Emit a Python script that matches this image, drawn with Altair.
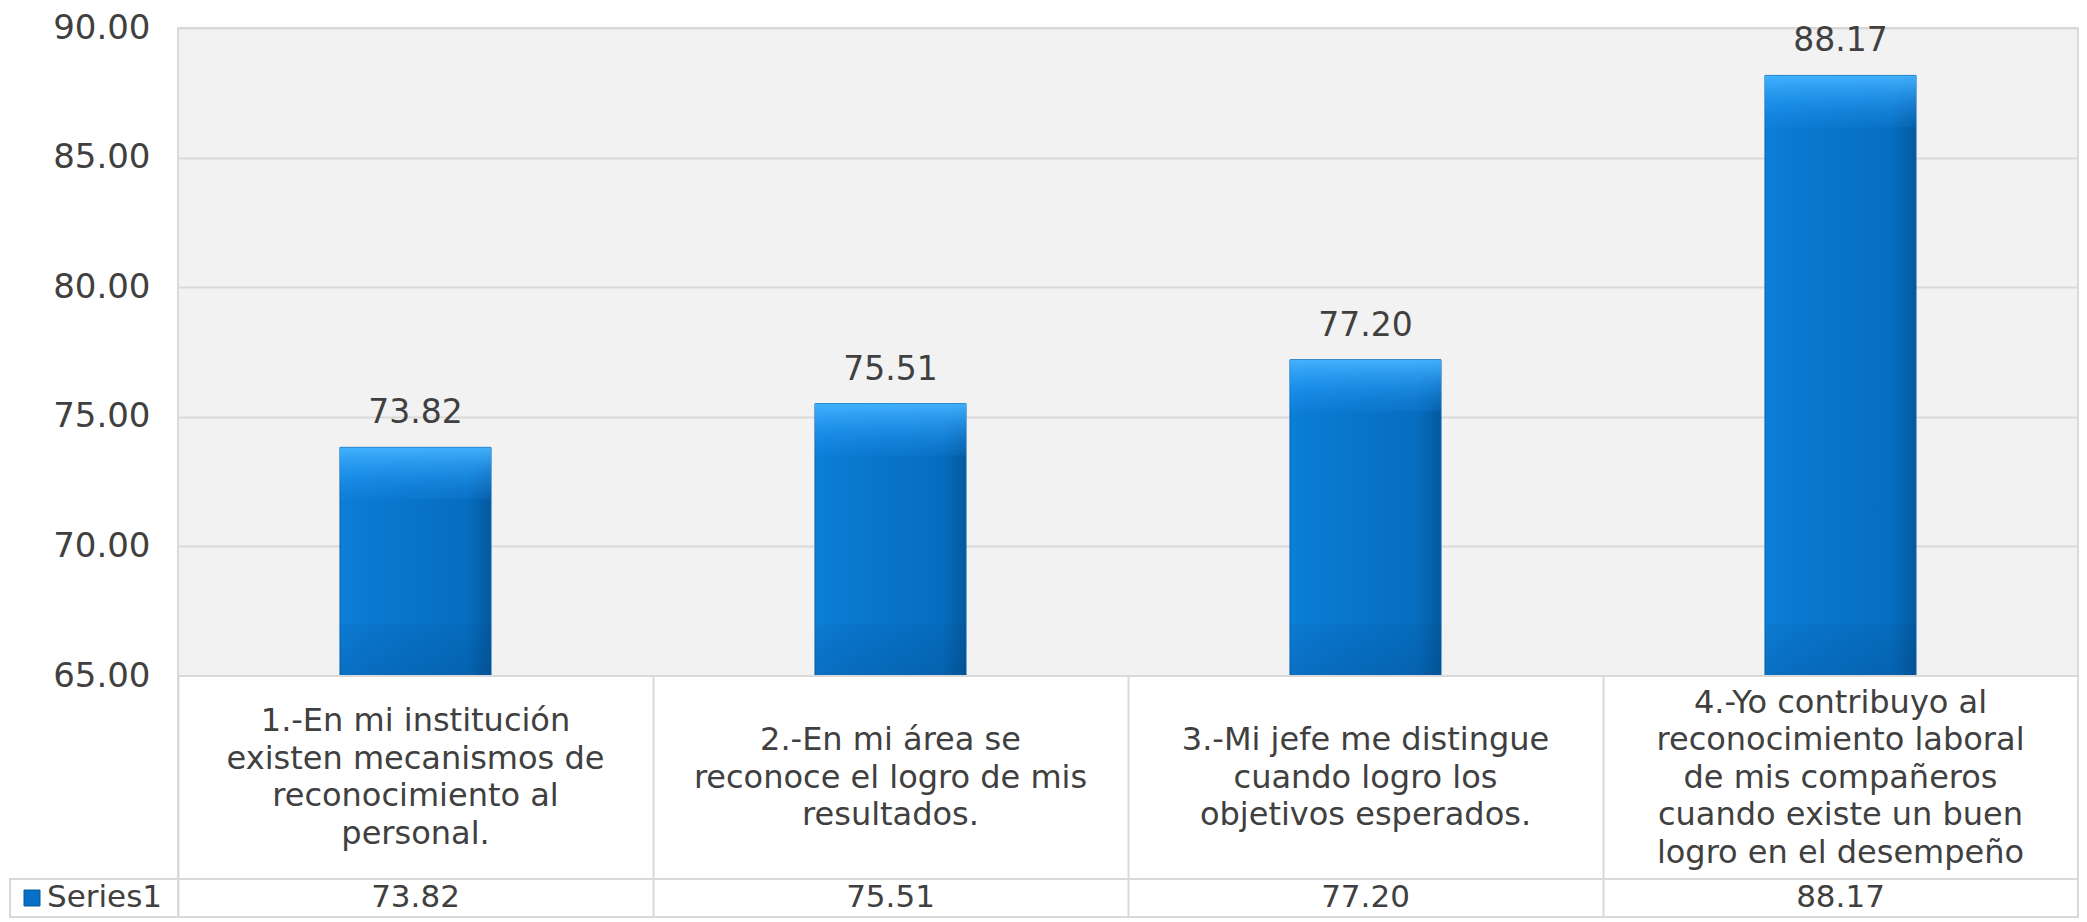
import altair as alt

# ---------------- data ----------------
category_lines = [
    ["1.-En mi institución", "existen mecanismos de", "reconocimiento al", "personal."],
    ["2.-En mi área se", "reconoce el logro de mis", "resultados."],
    ["3.-Mi jefe me distingue", "cuando logro los", "objetivos esperados."],
    ["4.-Yo contribuyo al", "reconocimiento laboral", "de mis compañeros",
     "cuando existe un buen", "logro en el desempeño"],
]
values = [73.82, 75.51, 77.20, 88.17]
series_name = "Series1"
y_ticks = [65, 70, 75, 80, 85, 90]
y_domain = [65, 90]

categories = [" ".join(lines) for lines in category_lines]
rows = [
    {"cat": c, "value": v, "series": series_name}
    for c, v in zip(categories, values)
]
line_rows = [
    {"cat": c, "line": line, "i": i, "n": len(lines)}
    for c, lines in zip(categories, category_lines)
    for i, line in enumerate(lines)
]
data = alt.InlineData(values=rows)
line_data = alt.InlineData(values=line_rows)
series_data = alt.InlineData(values=[{"series": series_name}])

# ---------------- style ----------------
W = 1900
H_BAR = 648
H_CAT = 203
H_VAL = 38
LINE_H = 37.5
BEVEL = 2.0  # bevel depth in axis units (~52px)
GRID = "#D9D9D9"
TEXT = "#404040"
FONT = "DejaVu Sans"
BAR = "#0870C8"

main_grad = alt.Gradient(
    gradient="linear", x1=0, x2=1, y1=0, y2=0,
    stops=[
        alt.GradientStop(color="#0C7FD8", offset=0),
        alt.GradientStop(color="#0A7AD2", offset=0.15),
        alt.GradientStop(color="#066EC0", offset=0.84),
        alt.GradientStop(color="#04599E", offset=1),
    ],
)
top_grad = alt.Gradient(
    gradient="linear", x1=0, x2=0, y1=0, y2=1,
    stops=[
        alt.GradientStop(color="rgba(70,180,255,0.95)", offset=0),
        alt.GradientStop(color="rgba(45,160,250,0.55)", offset=0.5),
        alt.GradientStop(color="rgba(30,140,235,0.15)", offset=1),
    ],
)
bottom_grad = alt.Gradient(
    gradient="linear", x1=0, x2=0, y1=0, y2=1,
    stops=[
        alt.GradientStop(color="rgba(0,45,100,0.05)", offset=0),
        alt.GradientStop(color="rgba(0,45,100,0.18)", offset=1),
    ],
)

# ---------------- bar chart ----------------
x_bar = alt.X(
    "cat:N", sort=categories, axis=None,
    scale=alt.Scale(paddingInner=0.682, paddingOuter=0.341),
)
y_bar = alt.Y(
    "value:Q",
    title=None,
    scale=alt.Scale(domain=y_domain, zero=False, nice=False),
    axis=alt.Axis(
        values=y_ticks, format=".2f", domain=False, ticks=False,
        labelFontSize=34, labelColor=TEXT, labelPadding=28,
        grid=True, gridColor=GRID, gridWidth=2,
    ),
)
base = alt.Chart(data)
bars = base.mark_bar(fill=main_grad, stroke="#0663AE", strokeWidth=1).encode(
    x=x_bar, y=y_bar, y2=alt.datum(y_domain[0])
)
top_cap = base.transform_calculate(
    cap=f"datum.value - {BEVEL}"
).mark_bar(fill=top_grad).encode(x=x_bar, y="value:Q", y2="cap:Q")
bottom_cap = base.mark_bar(fill=bottom_grad).encode(
    x=x_bar, y=alt.datum(y_domain[0] + BEVEL), y2=alt.datum(y_domain[0])
)
labels = base.mark_text(
    baseline="alphabetic", dy=-24, fontSize=33, color=TEXT
).encode(x=x_bar, y="value:Q", text=alt.Text("value:Q", format=".2f"))

bar_chart = alt.layer(bars, top_cap, bottom_cap, labels).properties(
    width=W, height=H_BAR,
    view=alt.ViewBackground(fill="#F2F2F2", stroke=GRID, strokeWidth=2),
)

# ---------------- table rows ----------------
def x_tab():
    return alt.X(
        "cat:N", sort=categories, title=None,
        scale=alt.Scale(paddingInner=0, paddingOuter=0),
        axis=alt.Axis(
            labels=False, ticks=False, domain=False, grid=True,
            tickBand="extent", gridColor=GRID, gridWidth=2,
        ),
    )

half = H_CAT / 2 / LINE_H
cat_row = alt.Chart(line_data).transform_calculate(
    offset="(datum.n - 1) / 2 - datum.i"
).mark_text(
    fontSize=32, align="center", baseline="middle", color=TEXT
).encode(
    x=x_tab(),
    y=alt.Y("offset:Q", scale=alt.Scale(domain=[-half, half], nice=False, zero=False), axis=None),
    text="line:N",
).properties(
    width=W, height=H_CAT,
    view=alt.ViewBackground(fill="white", stroke=GRID, strokeWidth=2),
)

val_text = alt.Chart(data).mark_text(
    fontSize=31, baseline="middle", color=TEXT
).encode(x=x_tab(), text=alt.Text("value:Q", format=".2f"))

series_cell = alt.Chart(series_data).mark_rect(
    fill="white", stroke=GRID, strokeWidth=2
).encode(x=alt.value(-168), x2=alt.value(0), y=alt.value(0), y2=alt.value(H_VAL))

series_sym = alt.Chart(series_data).mark_point(
    shape="square", size=256, filled=True, opacity=1, stroke="#05569A", strokeWidth=1
).encode(
    x=alt.value(-146),
    color=alt.Color("series:N", scale=alt.Scale(range=[BAR]), legend=None),
)

series_lbl = alt.Chart(series_data).mark_text(
    align="left", baseline="middle", fontSize=31, color=TEXT
).encode(x=alt.value(-131), text="series:N")

val_row = alt.layer(series_cell, series_sym, series_lbl, val_text).properties(
    width=W, height=H_VAL,
    view=alt.ViewBackground(fill="white", stroke=GRID, strokeWidth=2),
)

chart = alt.vconcat(
    bar_chart, cat_row, val_row, spacing=0, bounds="flush"
).properties(
    padding={"top": 2, "left": 0, "right": 0, "bottom": 0}
).configure(font=FONT)

chart.save("out.html", embed_options={"renderer": "svg", "actions": False})
